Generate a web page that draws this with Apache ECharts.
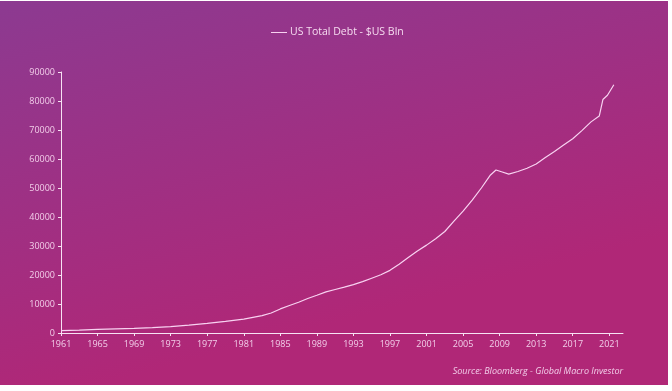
<!DOCTYPE html>
<html>
<head>
<meta charset="utf-8">
<script src="https://cdn.jsdelivr.net/npm/echarts@6/dist/echarts.min.js"></script>
<style>
  html, body { margin: 0; padding: 0; background: #ffffff; }
  #chart { position: absolute; left: 0; top: 1px; width: 668px; height: 384px; }
</style>
</head>
<body>
<div id="chart"></div>
<script>
// Data (year, US total debt in $bn)
const years = [1961, 1963, 1965, 1967, 1969, 1971, 1973, 1975, 1977, 1979, 1981, 1983, 1984,
  1985, 1986, 1987, 1988, 1989, 1990, 1991, 1992, 1993, 1994, 1995, 1996, 1997, 1998,
  1999, 2000, 2001, 2002, 2003, 2004, 2005, 2006, 2007, 2008, 2008.6, 2009.2, 2010, 2011, 2012,
  2013, 2014, 2015, 2016, 2017, 2018, 2019, 2019.9, 2020.3, 2020.8, 2021.5];
const debt = [800, 1000, 1270, 1430, 1600, 1850, 2200, 2700, 3300, 4000, 4800, 6000, 6900,
  8300, 9500, 10600, 11900, 13000, 14200, 15000, 15800, 16700, 17700, 18900, 20100, 21600, 23700,
  26000, 28300, 30300, 32500, 35000, 38600, 42000, 45800, 50000, 54500, 56200, 55600, 54800, 55700, 56800,
  58300, 60500, 62600, 64800, 67000, 69800, 72800, 74800, 80500, 82000, 85600];
const tickYears = [1961, 1965, 1969, 1973, 1977, 1981, 1985, 1989, 1993, 1997, 2001, 2005, 2009, 2013, 2017, 2021];
const seriesName = 'US Total Debt - $US Bln';
const sourceText = 'Source: Bloomberg - Global Macro Investor';

const BASE = 1961;
const chart = echarts.init(document.getElementById('chart'));
const labelColor = '#f2cde9';
const font = '"Open Sans", "Noto Sans", sans-serif';

chart.setOption({
  backgroundColor: new echarts.graphic.LinearGradient(0, 0, 0.15, 1, [
    { offset: 0, color: '#8c3a91' },
    { offset: 1, color: '#b02777' }
  ]),
  animation: false,
  legend: {
    top: 21,
    left: 266,
    itemWidth: 16,
    itemHeight: 1,
    itemGap: 4,
    textStyle: { color: '#f6dcf0', fontSize: 10.5, fontFamily: font, padding: [0, 0, 0, -2] },
    data: [{ name: seriesName, icon: 'rect' }]
  },
  graphic: [{
    type: 'text',
    right: 45,
    top: 366,
    style: {
      text: sourceText,
      fill: labelColor,
      fontSize: 9,
      fontStyle: 'italic',
      fontFamily: font
    }
  }],
  grid: { left: 61, right: 45, top: 71, bottom: 52, containLabel: false },
  xAxis: {
    type: 'value',
    min: 0,
    max: 61.5,
    interval: 4,
    axisLine: { lineStyle: { color: '#f7e3f3', width: 1 } },
    axisTick: { show: true, length: 3, lineStyle: { color: '#f7e3f3' },
      customValues: tickYears.map(y => y - BASE) },
    axisLabel: { color: labelColor, fontSize: 9, fontFamily: font, margin: 7,
      customValues: tickYears.map(y => y - BASE),
      formatter: v => String(Math.round(v + BASE)) },
    splitLine: { show: false }
  },
  yAxis: {
    type: 'value',
    min: 0,
    max: 90000,
    interval: 10000,
    axisLine: { show: true, lineStyle: { color: '#f7e3f3', width: 1 } },
    axisTick: { show: true, length: 3, lineStyle: { color: '#f7e3f3' } },
    axisLabel: { color: labelColor, fontSize: 9, fontFamily: font, margin: 6,
      formatter: v => String(v) },
    splitLine: { show: false }
  },
  series: [{
    name: seriesName,
    type: 'line',
    data: years.map((y, i) => [y - BASE, debt[i]]),
    showSymbol: false,
    symbol: 'none',
    lineStyle: { color: '#f8d2f1', width: 1.2 },
    itemStyle: { color: '#f8d2f1' }
  }]
});
</script>
</body>
</html>
